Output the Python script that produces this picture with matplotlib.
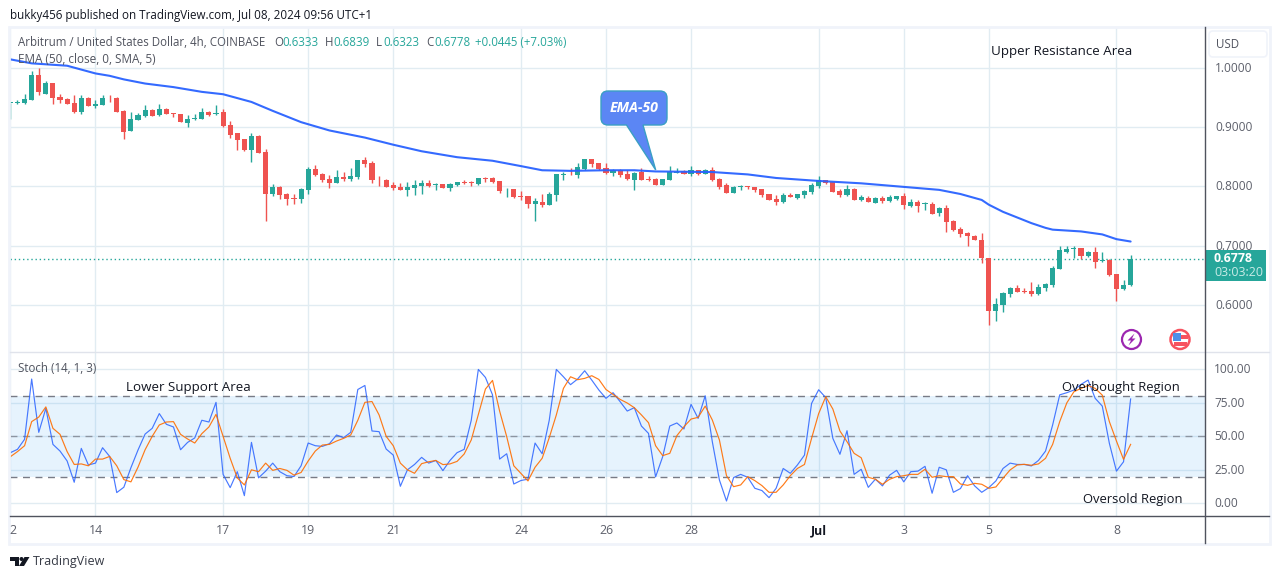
import matplotlib
matplotlib.use("Agg")
import matplotlib.pyplot as plt
from matplotlib.patches import Rectangle, FancyBboxPatch, Circle, Polygon, PathPatch
from matplotlib.path import Path
import numpy as np

plt.rcParams['font.family'] = ['Open Sans', 'DejaVu Sans']

W, H = 1281, 579

open_ = [
 .940,.941,.940,.946,.987,.955,.974,.950,.947,.940,
 .925,.949,.936,.937,.949,.949,.927,.893,.912,.918,
 .928,.920,.930,.923,.922,.907,.913,.914,.925,.922,
 .925,.903,.889,.879,.861,.885,.858,.787,.799,.787,
 .780,.779,.794,.829,.821,.812,.806,.816,.812,.816,
 .844,.839,.811,.811,.802,.799,.794,.797,.801,.806,
 .803,.804,.797,.802,.807,.807,.804,.814,.814,.809,
 .795,.795,.783,.784,.770,.774,.769,.785,.819,.821,
 .819,.829,.846,.839,.831,.822,.827,.821,.811,.824,
 .812,.812,.802,.811,.823,.826,.821,.827,.821,.827,
 .812,.802,.789,.799,.801,.799,.796,.787,.779,.774,
 .785,.780,.785,.790,.801,.811,.807,.792,.785,.796,
 .777,.780,.772,.780,.775,.779,.784,.767,.774,.770,
 .770,.755,.763,.742,.728,.721,.716,.710,.679,.590,
 .600,.619,.629,.624,.624,.619,.629,.634,.661,.689,
 .694,.696,.683,.689,.674,.676,.652,.627,.6333]
close = [
 .941,.942,.947,.987,.958,.974,.949,.945,.939,.925,
 .949,.936,.939,.949,.948,.925,.892,.913,.920,.928,
 .919,.930,.922,.922,.909,.913,.914,.925,.920,.923,
 .902,.886,.878,.861,.885,.856,.787,.799,.785,.779,
 .779,.795,.829,.819,.811,.806,.816,.813,.817,.844,
 .838,.811,.810,.799,.797,.794,.799,.802,.806,.801,
 .804,.797,.804,.807,.806,.806,.814,.813,.807,.792,
 .796,.782,.782,.770,.775,.769,.787,.821,.821,.820,
 .833,.846,.838,.829,.822,.827,.819,.812,.822,.811,
 .811,.802,.812,.824,.824,.821,.827,.821,.827,.811,
 .799,.789,.799,.801,.799,.794,.785,.777,.774,.785,
 .782,.787,.792,.802,.811,.806,.790,.785,.796,.777,
 .782,.774,.780,.775,.782,.784,.769,.774,.767,.771,
 .753,.763,.740,.727,.720,.716,.710,.679,.590,.602,
 .620,.629,.622,.622,.619,.631,.636,.662,.693,.694,
 .696,.683,.689,.673,.675,.651,.627,.634,.6778]
high = [
 .941,.945,.955,.994,.999,.977,.974,.955,.948,.954,
 .953,.951,.945,.954,.953,.950,.928,.925,.923,.937,
 .930,.939,.931,.923,.922,.920,.921,.931,.927,.937,
 .930,.910,.890,.880,.890,.886,.863,.804,.801,.788,
 .787,.797,.833,.836,.822,.819,.827,.824,.830,.844,
 .849,.843,.818,.813,.807,.805,.807,.811,.811,.811,
 .806,.804,.805,.808,.811,.809,.814,.816,.816,.809,
 .797,.795,.792,.784,.780,.787,.790,.821,.824,.831,
 .839,.846,.846,.839,.840,.829,.829,.827,.824,.831,
 .817,.814,.813,.834,.831,.827,.834,.827,.829,.832,
 .814,.806,.801,.802,.801,.799,.796,.787,.785,.789,
 .789,.787,.794,.806,.817,.811,.807,.796,.802,.797,
 .785,.784,.782,.784,.785,.784,.789,.779,.777,.774,
 .774,.765,.769,.743,.732,.723,.718,.721,.680,.612,
 .622,.631,.634,.629,.639,.636,.637,.666,.700,.700,
 .700,.696,.691,.698,.689,.678,.652,.642,.6839]
low = [
 .913,.938,.939,.946,.953,.955,.939,.940,.938,.924,
 .922,.936,.931,.937,.942,.925,.880,.893,.912,.917,
 .919,.919,.921,.916,.908,.900,.912,.913,.919,.920,
 .900,.881,.861,.859,.841,.856,.742,.784,.779,.769,
 .770,.772,.787,.818,.807,.797,.806,.809,.809,.813,
 .833,.806,.801,.798,.793,.793,.784,.785,.787,.798,
 .794,.797,.792,.801,.804,.801,.802,.808,.806,.789,
 .782,.780,.777,.763,.742,.765,.769,.775,.811,.819,
 .814,.827,.833,.827,.821,.817,.816,.811,.794,.811,
 .809,.802,.802,.811,.822,.821,.817,.819,.821,.809,
 .796,.789,.789,.794,.796,.790,.782,.777,.769,.772,
 .782,.779,.780,.787,.797,.804,.790,.782,.784,.777,
 .775,.774,.772,.772,.774,.777,.762,.765,.757,.760,
 .753,.750,.723,.725,.715,.700,.710,.671,.567,.573,
 .588,.614,.622,.620,.615,.617,.624,.631,.661,.688,
 .679,.678,.681,.662,.673,.649,.607,.625,.6323]
ema_idx = [0,3,8,12,14,16,19,23,27,30,34,37,41,45,50,54,58,63,68,72,75,79,84,88,91,
           99,104,108,114,120,126,131,134,137,138,140,144,146,147,151,154,156,158]
ema_val = [1.0137,1.007,1.003,.990,.986,.980,.973,.967,.959,.955,.942,.927,.908,.894,.882,.870,.859,.849,.843,.834,
           .827,.826,.827,.827,.825,.824,.820,.814,.809,.805,.799,.794,.787,.777,.769,.757,.738,.730,.727,.724,.719,.711,.707]
stoch_k = [
 37.8,40.3,47.8,92.8,53,70.9,44,39,31.6,15.7,
 41,28.6,30,41.5,35,8,12,26.6,39.8,51.7,
 56,67,59,57,40,45.5,48.8,62,60.7,75.4,
 21.6,11.7,23.6,5.7,45.5,19,24,30,23.6,20.6,
 20,28,45,43,42.5,44.5,51,49,53,85,
 88,54,53.5,40.5,36,12.7,25,29,34.3,30,
 32,24.4,32,37.8,40.3,62,100,94,81,33,
 37,14.4,17,18,45,37,62,100,94.5,88.6,
 92.8,99,92,84.6,78.4,82.6,75.9,68.9,71.4,57.7,
 52.2,19.7,34.8,57.7,60,55.5,73.9,63.4,80.3,46,
 17.4,1.7,19.2,21.6,19.4,11.2,9.5,4.2,11.2,26,
 22.4,28.6,36,74.6,84.8,78.9,48.5,36.6,54.2,21.6,
 25.4,11.9,18,13,21,24.6,16,23.6,24,27.6,
 7.5,26.9,25,8.2,11,20.6,13,8.2,11.7,16.7,
 26,30,29,29,27.9,32,39,58.5,81,82.6,
 84.6,88.8,92,78.4,72.6,44.8,24,31,77.9]
stoch_d = [
 34.8,38.6,43,61,64.4,72,56,51.5,38.6,29,
 29.4,28,33,33,35,28,17.7,16,27,40,
 50,58.5,60.7,61,51.5,48,45,52,57,66.4,
 50,33.6,19,13.7,25,23.6,30,24.6,26,24.6,
 21,23,31.6,39,43.5,44,46.5,48.5,51,62,
 75.4,76,66,50,43,30,25,22.4,29.6,31,
 32,28.9,29.4,31.3,36.8,47.3,66.4,85.3,91.8,68.9,
 49.8,28,22.4,16.7,26.9,33.6,49,66,85.8,94.5,
 92.3,93.3,95.3,92.5,85,81.3,77.6,74.9,71.4,66,
 60.2,43,35.6,37.3,50.5,57.2,62.9,64.2,72.6,62.2,
 47.3,20.6,12.4,13.7,19.9,16.9,13.2,8.2,8.2,13.7,
 20.6,26,29,48.5,67,79.6,70.4,54,46,37.3,
 34,19.4,18,14.2,17.9,19.9,20.6,21.6,21.6,25.4,
 19.4,20.6,19.9,19.9,14.4,13.4,14.9,14.2,11.2,12.2,
 18.7,24.9,28.6,29.1,28.4,29.4,33.6,44,61,75,
 83.3,85.8,88,85.8,80.8,61,46.5,32.8,44]
day_idx = [0,12,30,42,54,72,84,96,114,126,138,156]
day_labels = ['2','14','17','19','21','24','26','28','Jul','3','5','8']
price_ticks = [0.6,0.7,0.8,0.9,1.0]
stoch_ticks = [0,25,50,75,100]
last_close = close[-1]

UP, DOWN = '#26a69a', '#ef5350'
GRID = '#e1ecf2'
TXT = '#131722'
AXT = '#5d606b'
BAND = '#f0f3fa'

fig = plt.figure(figsize=(W/100, H/100), dpi=100, facecolor='white')
def box(l, t, r, b):
    return [l/W, 1-b/H, (r-l)/W, (b-t)/H]

ax = fig.add_axes(box(10, 27, 1205, 352))
axs = fig.add_axes(box(10, 352, 1205, 516))
xlim = (-0.056, 168.49)
for a in (ax, axs):
    a.set_xlim(*xlim)
    a.set_xticks(day_idx)
    a.tick_params(length=0, labelbottom=False, labelleft=False)
    a.grid(True, color=GRID, lw=1.0)
    a.set_axisbelow(True)
    for s in a.spines.values():
        s.set_visible(False)
ax.set_ylim(0.5210, 1.0682)
ax.set_yticks(price_ticks)
axs.set_ylim(-9.5, 113)
axs.set_yticks(stoch_ticks)

x = np.arange(len(open_))
o, c, h, l = map(np.array, (open_, close, high, low))
cols = [UP if cc >= oo else DOWN for oo, cc in zip(o, c)]
ax.vlines(x, l, h, colors=cols, lw=1.0, zorder=3)
bot = np.minimum(o, c)
hgt = np.maximum(np.abs(c-o), 0.0012)
ax.bar(x, hgt, bottom=bot, width=0.72, color=cols, lw=0, zorder=4)
ax.plot(ema_idx, ema_val, color='#2962ff', lw=1.5, alpha=0.95, zorder=5, solid_capstyle='round')
ax.axhline(last_close, color=UP, lw=1, ls=(0, (1, 2)), zorder=2)

axs.axhspan(20, 80, color='#2196f3', alpha=0.11, lw=0, zorder=1)
axs.axhline(80, color='#787b86', lw=1, ls=(0, (5, 4)), zorder=2)
axs.axhline(50, color='#787b86', lw=1, ls=(0, (5, 4)), alpha=0.75, zorder=2)
axs.axhline(20, color='#787b86', lw=1, ls=(0, (5, 4)), zorder=2)
axs.plot(x, stoch_k, color='#2962ff', lw=0.85, alpha=0.85, zorder=3)
axs.plot(x, stoch_d, color='#ff6d00', lw=0.85, alpha=0.9, zorder=4)

# overlay in figure pixels for frame, labels and annotations
ov = fig.add_axes([0, 0, 1, 1], zorder=10)
ov.set_xlim(0, W); ov.set_ylim(H, 0); ov.axis('off'); ov.patch.set_alpha(0)
def T(px, py, s, size=8.9, color=TXT, ha='left', **kw):
    return ov.text(px, py + 1, s, fontsize=size, color=color, ha=ha, va='center', **kw)

ov.add_patch(Rectangle((9, 27), 1261, 517, fc='none', ec=BAND, lw=2))
ov.plot([10, 1269], [352, 352], color='#e0e3eb', lw=1)
ov.plot([10, 1269], [516, 516], color='#50535e', lw=1)
ov.plot([1205, 1205], [27, 543], color='#50535e', lw=1)

T(10, 14.5, 'bukky456 published on TradingView.com, Jul 08, 2024 09:56 UTC+1', 8.4)
LG = '#50535e'
T(18, 41.5, 'Arbitrum / United States Dollar, 4h, COINBASE', 8.3, LG)
for px, s, col in [(274, 'O', LG), (282, '0.6333', UP), (325, 'H', LG), (333, '0.6839', UP),
                   (376, 'L', LG), (383, '0.6323', UP), (426, 'C', LG), (434, '0.6778', UP),
                   (475, '+0.0445 (+7.03%)', UP)]:
    T(px, 41.5, s, 8.3, col)
T(18, 58.5, 'EMA (50, close, 0, SMA, 5)', 8.5, LG)
T(18, 367.5, 'Stoch (14, 1, 3)', 8.3, LG)

T(991, 51, 'Upper Resistance Area', 9.6)
T(126, 386, 'Lower Support Area', 9.6)
T(1062, 387, 'Overbought Region', 9.4)
T(1083, 499, 'Oversold Region', 9.4)

# right scale
ov.add_patch(FancyBboxPatch((1211, 33), 54, 22, boxstyle='round,pad=2,rounding_size=4', fc='white', ec=BAND, lw=1.2))
T(1228, 43.5, 'USD', 8.3, LG, ha='center')
for v in price_ticks:
    T(1215, 67 + (1.0 - v)*594, f'{v:.4f}', 8.6, AXT)
for v in stoch_ticks:
    T(1214, 502.8 - v*1.34, f'{v:.2f}', 8.6, AXT)
ov.add_patch(Rectangle((1205, 250), 61, 31, fc=UP, ec='none'))
T(1214, 258, f'{last_close:.4f}', 8.9, 'white', fontweight='bold')
T(1214, 272, '03:03:20', 8.9, '#c8ebe6')

# time labels
for i, s in zip(day_idx, day_labels):
    px = 10.4 + 7.09*i
    if s == '2':
        T(13, 529.5, s, 8.8, AXT, ha='center')
    elif s == 'Jul':
        T(px, 529.5, s, 8.8, TXT, ha='center', fontweight='bold')
    else:
        T(px, 529.5, s, 8.8, AXT, ha='center')

# EMA-50 callout
bx0, by0, bx1, by1, r = 601, 91, 667, 125, 7
verts = [(bx0+r, by0), (bx1-r, by0), (bx1, by0), (bx1, by0+r), (bx1, by1-r), (bx1, by1), (bx1-r, by1),
         (643, by1), (655.7, 170), (626.5, by1), (bx0+r, by1), (bx0, by1), (bx0, by1-r), (bx0, by0+r), (bx0, by0), (bx0+r, by0)]
codes = [Path.MOVETO, Path.LINETO, Path.CURVE3, Path.CURVE3, Path.LINETO, Path.CURVE3, Path.CURVE3,
         Path.LINETO, Path.LINETO, Path.LINETO, Path.LINETO, Path.CURVE3, Path.CURVE3, Path.LINETO, Path.CURVE3, Path.CURVE3]
ov.add_patch(PathPatch(Path(verts, codes), fc='#5b86f4', ec='#3a9fc4', lw=1, zorder=6))
T(634, 107.5, 'EMA-50', 10.2, 'white', ha='center', fontstyle='italic', fontweight='bold', zorder=7)

# event icons
ov.add_patch(Circle((1131.5, 339.5), 9.5, fc='white', ec='#9c27b0', lw=1.6))
ov.add_patch(Polygon([(1134.5, 333.5), (1127.5, 340.5), (1131, 340.5), (1128.5, 345.5), (1135.5, 338.5), (1132, 338.5)],
                     fc='#9c27b0', ec='none'))
ov.add_patch(Circle((1180, 339.5), 9.5, fc='white', ec='#f7525f', lw=1.8))
ov.add_patch(Rectangle((1172.5, 335), 15, 3.5, fc='#f7525f', ec='none'))
ov.add_patch(Rectangle((1173.5, 342), 13, 3.5, fc='#f7525f', ec='none'))
ov.add_patch(Rectangle((1173, 333), 8, 7.5, fc='#4e8fe8', ec='none'))

# TradingView mark
ov.add_patch(Polygon([(10, 557), (19, 557), (19, 566), (14.5, 566), (14.5, 561), (10, 561)], fc=TXT, ec='none'))
ov.add_patch(Circle((21.5, 559), 2, fc=TXT, ec='none'))
ov.add_patch(Polygon([(24.5, 557), (29.5, 557), (24, 566), (19, 566)], fc=TXT, ec='none'))
T(33, 560.5, 'TradingView', 9, '#363a45')

fig.savefig('out.png', dpi=100)
